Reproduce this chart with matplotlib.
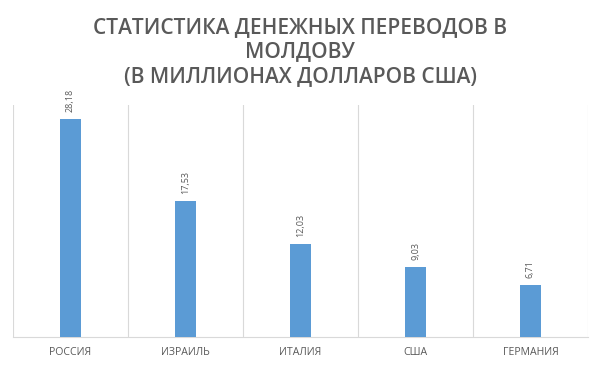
import matplotlib.pyplot as plt

countries = ['РОССИЯ', 'ИЗРАИЛЬ', 'ИТАЛИЯ', 'США', 'ГЕРМАНИЯ']
values = [28.18, 17.53, 12.03, 9.03, 6.71]
labels = ['28,18', '17,53', '12,03', '9,03', '6,71']

plt.rcParams['font.family'] = ['Open Sans', 'DejaVu Sans']

fig = plt.figure(figsize=(6, 3.66), dpi=100)
ax = fig.add_axes([13 / 600, 1 - 337 / 366, 575 / 600, 232 / 366])

x = list(range(len(countries)))
bars = ax.bar(x, values, width=0.175, color='#5b9bd5', zorder=3)
for xi, v, lab in zip(x, values, labels):
    ax.annotate(lab, (xi, v), xytext=(0, 5), textcoords='offset points',
                rotation=90, ha='center', va='bottom', fontsize=6.5, color='#595959')

ax.set_xlim(-0.5, len(countries) - 0.5)
ax.set_ylim(0, 30)
ax.set_yticks([])
ax.set_xticks(x)
ax.set_xticklabels(countries, fontsize=7.6, color='#595959')
ax.tick_params(axis='x', length=0, pad=7)

# category separators
for b in [i - 0.5 for i in range(len(countries) + 1)]:
    ax.axvline(b, color='#d9d9d9', lw=0.8, zorder=1)
for s in ['top', 'left', 'right']:
    ax.spines[s].set_visible(False)
ax.spines['bottom'].set_color('#d9d9d9')

fig.text(0.5, 1 - 52 / 366, 'СТАТИСТИКА ДЕНЕЖНЫХ ПЕРЕВОДОВ В\nМОЛДОВУ\n(В МИЛЛИОНАХ ДОЛЛАРОВ США)',
         ha='center', va='center', fontsize=15, fontweight='semibold', color='#595959',
         linespacing=1.24)

plt.savefig('out.png', dpi=100)
